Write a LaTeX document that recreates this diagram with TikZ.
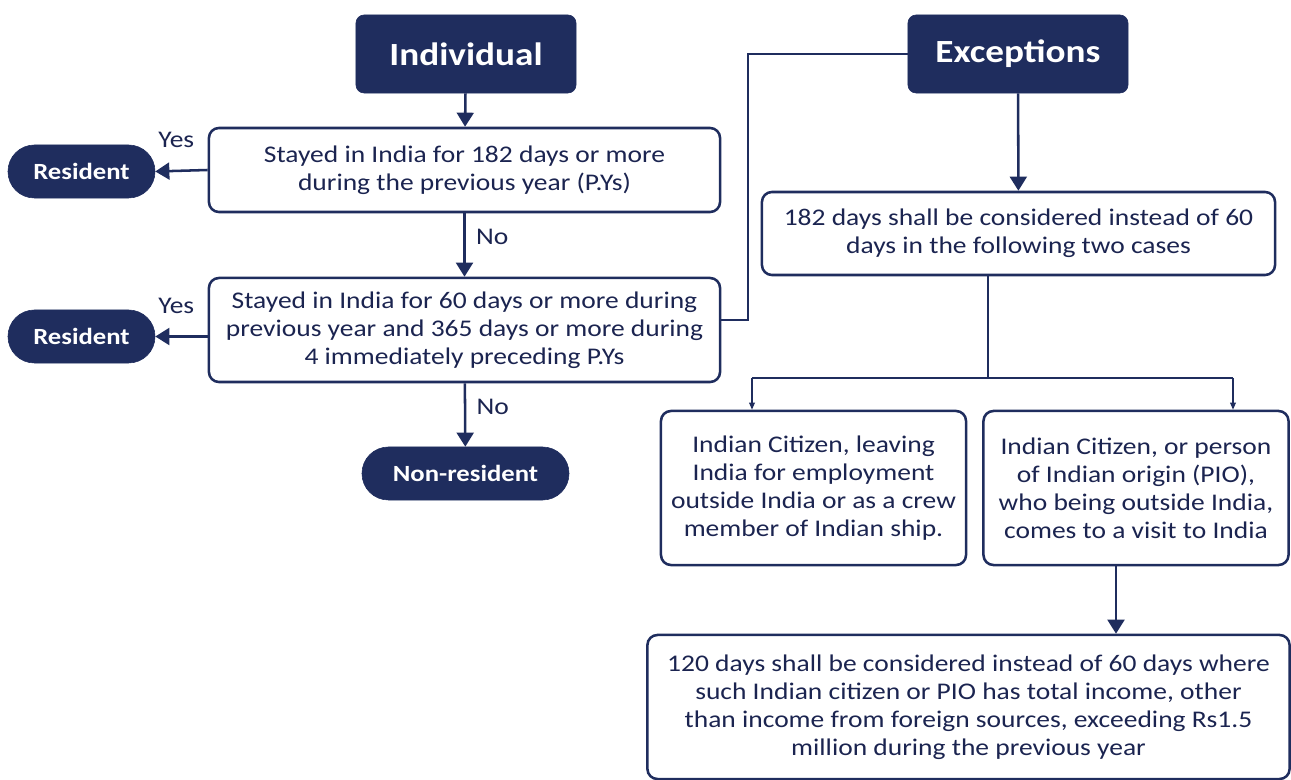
\documentclass[tikz,border=0pt]{standalone}
\usepackage{fontspec}
\setmainfont{Carlito}[FakeStretch=1.15]
\usetikzlibrary{arrows.meta}

\definecolor{navy}{RGB}{31,45,94}
\definecolor{ink}{RGB}{27,36,80}

\tikzset{
  title/.style={draw=navy,fill=navy,rounded corners=0.2cm,inner sep=0pt,
    minimum width=5.5cm,minimum height=1.95cm,text=white,
    font=\bfseries\fontsize{23}{28}\selectfont},
  pill/.style={draw=navy,fill=navy,rounded corners=0.66cm,inner sep=0pt,
    minimum width=3.675cm,minimum height=1.325cm,text=white,
    font=\bfseries\fontsize{16.5}{20}\selectfont},
  test/.style={draw=navy,line width=1.8pt,rounded corners=0.25cm,inner sep=0pt,
    align=center,text=ink,font=\fontsize{17}{20}\selectfont},
  flow/.style={draw=navy,line width=1.8pt,-{Triangle[length=10pt,width=12pt]}},
  link/.style={draw=navy,line width=1pt},
  tag/.style={text=ink,font=\fontsize{17}{20}\selectfont}
}

\begin{document}
\begin{tikzpicture}[x=0.025cm,y=-0.025cm]
  \useasboundingbox (0,0) rectangle (1291,780);

  % left column: residence tests
  \node[title] (indiv) at (466,54) {Individual};
  \node[test,minimum width=12.775cm,minimum height=2.1cm] (stay182) at (464.5,170)
    {Stayed in India for 182 days or more\\during the previous year (P.Ys)};
  \node[test,minimum width=12.775cm,minimum height=2.6cm] (stay60) at (464.5,330)
    {Stayed in India for 60 days or more during\\previous year and 365 days or more during\\4 immediately preceding P.Ys};
  \node[pill] (res1) at (81.5,171.5) {Resident};
  \node[pill] (res2) at (81.5,336.5) {Resident};
  \node[pill,minimum width=5.175cm] (nonres) at (465.5,473.5) {Non-resident};

  \draw[flow] (indiv) -- (stay182);
  \draw[flow] (stay182.west) -- (res1.east) node[tag,pos=0.6,above=12pt] {Yes};
  \draw[flow] (stay182) -- (stay60) node[tag,pos=0.38,right=4pt] {No};
  \draw[flow] (stay60.west |- res2) -- (res2.east) node[tag,pos=0.6,above=12pt] {Yes};
  \draw[flow] (stay60) -- (nonres) node[tag,pos=0.38,right=4pt] {No};

  % right column: exceptions
  \node[title] (exc) at (1018,54) {Exceptions};
  \node[test,minimum width=12.825cm,minimum height=2.075cm] (rule) at (1018.5,233.5)
    {182 days shall be considered instead of 60\\days in the following two cases};
  \node[test,minimum width=7.625cm,minimum height=3.85cm] (crew) at (813.5,488)
    {Indian Citizen, leaving\\India for employment\\outside India or as a crew\\member of Indian ship.};
  \node[test,minimum width=7.625cm,minimum height=3.85cm] (visit) at (1136,488)
    {Indian Citizen, or person\\of Indian origin (PIO),\\who being outside India,\\comes to a visit to India};
  \node[test,minimum width=16.05cm,minimum height=3.6cm] (income) at (968.5,707)
    {120 days shall be considered instead of 60 days where\\such Indian citizen or PIO has total income, other\\than income from foreign sources, exceeding Rs1.5\\million during the previous year};

  \coordinate (bend) at (748,320);
  \draw[link] (exc.west) -| (bend) -- (bend -| stay60.east);

  \draw[flow] (exc) -- (rule);

  \coordinate (fork) at (988,378);
  \coordinate (lft) at (752,378);
  \coordinate (rgt) at (1233,378);
  \draw[link] (fork |- rule.south) -- (fork);
  \draw[link] (lft) -- (rgt);
  \draw[link,-{Triangle[length=5pt,width=4pt]}] (lft) -- (lft |- crew.north);
  \draw[link,-{Triangle[length=5pt,width=4pt]}] (rgt) -- (rgt |- visit.north);

  \coordinate (drop) at (1116,0);
  \draw[flow] (drop |- visit.south) -- (drop |- income.north);
\end{tikzpicture}
\end{document}
